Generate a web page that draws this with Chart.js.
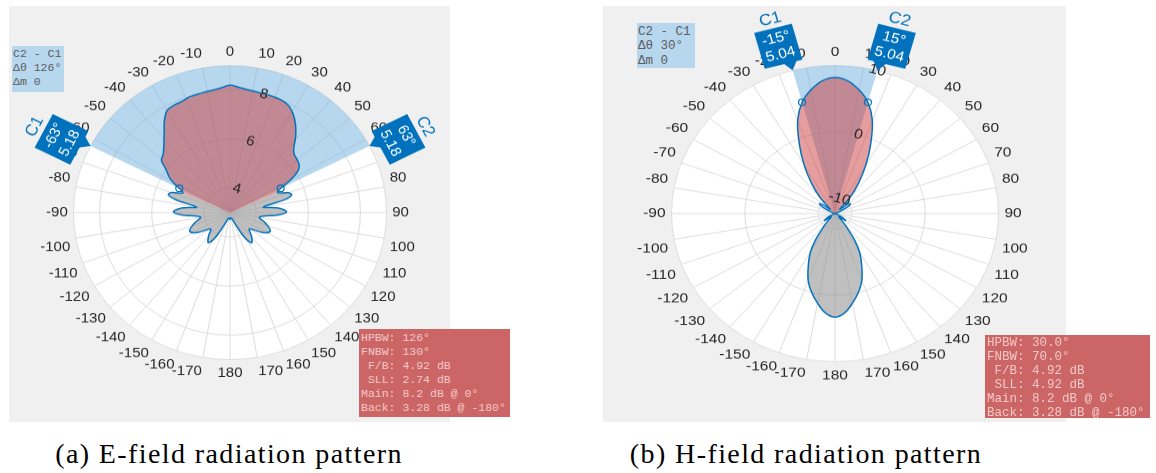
<!DOCTYPE html>
<html>
<head>
<meta charset="utf-8">
<script src="https://cdn.jsdelivr.net/npm/chart.js@4"></script>
<style>
  html, body { margin: 0; padding: 0; background: #ffffff; }
  body { width: 1156px; height: 473px; position: relative; overflow: hidden; }
  .panel { position: absolute; background: #f0f0f0; overflow: hidden; }
  .panel canvas { display: block; transform-origin: 0 0; }
  .readout { position: absolute; white-space: pre; font-family: "Liberation Mono", "DejaVu Sans Mono", monospace; box-sizing: border-box; }
  .delta { background: #b7d7ef; color: #5c5c5c; }
  .metrics { background: #cc6565; color: #f3c8c8; }
  .caption { position: absolute; top: 438px; transform: translateX(-50%); font-family: "Liberation Serif", serif; font-size: 28px; letter-spacing: 1.4px; color: #000; white-space: nowrap; }
</style>
</head>
<body>
<div class="panel" style="left:9px;top:6px;width:441px;height:416px"><canvas id="chartE"></canvas></div>
<div class="panel" style="left:603px;top:6px;width:463px;height:416px"><canvas id="chartH"></canvas></div>

<div class="readout delta" id="deltaE" style="left:12px;top:46px;width:52px;height:46px;padding:1px 0 0 1px;font-size:11.5px;line-height:14.2px"></div>
<div class="readout delta" id="deltaH" style="left:637px;top:23px;width:58px;height:45px;padding:2px 0 0 1px;font-size:12.5px;line-height:14.3px"></div>
<div class="readout metrics" id="metricsE" style="left:359px;top:329px;width:151px;height:88px;padding:2px 0 0 2px;font-size:11.5px;line-height:14px"></div>
<div class="readout metrics" id="metricsH" style="left:985px;top:335px;width:165px;height:83px;padding:1px 0 0 2px;font-size:12.5px;line-height:14px"></div>

<div class="caption" style="left:229px">(a) E-field radiation pattern</div>
<div class="caption" style="left:806px">(b) H-field radiation pattern</div>

<script>
// ---------- data ----------
// azimuth tick labels (degrees, clockwise from boresight)
const ANGLE_LABELS = [0, 10, 20, 30, 40, 50, 60, 70, 80, 90, 100, 110, 120, 130, 140, 150, 160, 170, 180,
  -170, -160, -150, -140, -130, -120, -110, -100, -90, -80, -70, -60, -50, -40, -30, -20, -10];

// E-plane cut: sampled angle (deg) and gain (dB)
const E_ANGLES = [-170, -160, -152, -146, -139, -132, -123, -116, -108, -99, -93, -89, -84, -80, -76, -73, -70, -66,
  -63, -61, -58, -54, -51, -47, -43, -38, -34, -30, -26, -22, -18, -13, -8, -4,
  0, 4, 8, 13, 18, 23, 27, 31, 35, 39, 43, 46, 50, 54, 57, 60,
  63, 66, 70, 73, 76, 80, 84, 89, 93, 99, 108, 116, 123, 132, 139, 146, 152, 160, 170, 180];
const E_GAIN = [3.22, 3.35, 4.05, 4.48, 4.25, 4.00, 4.50, 4.72, 4.45, 4.15, 4.85, 5.17, 4.85, 4.30, 5.10, 5.47, 5.40, 4.98,
  5.18, 5.45, 5.75, 6.05, 6.38, 6.50, 6.72, 7.10, 7.50, 7.82, 7.88, 7.90, 7.97, 8.00, 8.04, 8.10,
  8.20, 8.12, 8.06, 8.03, 8.02, 8.00, 7.92, 7.70, 7.38, 7.00, 6.58, 6.42, 6.36, 6.28, 6.10, 5.70,
  5.18, 5.00, 5.38, 5.47, 5.15, 4.30, 4.85, 5.17, 4.85, 4.15, 4.45, 4.72, 4.50, 4.00, 4.25, 4.48, 4.05, 3.35, 3.22, 3.28];
const E_RANGE = [3, 9];
const E_TICKS = [4, 6, 8];
const E_CURSOR_NAMES = ['C1', 'C2'];
const E_CURSOR_ANGLES = [-63, 63];
const E_CURSOR_VALUES = [5.18, 5.18];
const E_LOBE_EDGES = [-180, -65, 65, 180];          // back | main | back
const E_DELTA = ['C2 - C1', 'Δθ 126°', 'Δm 0'];
const E_METRICS = ['HPBW: 126°', 'FNBW: 130°', ' F/B: 4.92 dB', ' SLL: 2.74 dB', 'Main: 8.2 dB @ 0°', 'Back: 3.28 dB @ -180°'];

// H-plane cut
const H_ANGLES = [-175, -170, -165, -160, -155, -150, -146, -142, -138, -133, -126, -118, -110, -90, -75, -66,
  -60, -55, -50, -45, -40, -35, -30, -25, -20, -15, -10, -5,
  0, 5, 10, 15, 20, 25, 30, 35, 40, 45, 50, 55, 60,
  66, 75, 90, 110, 118, 126, 133, 138, 142, 146, 150, 155, 160, 165, 170, 175, 180];
const H_GAIN = [2.70, 1.40, 0.00, -1.60, -3.70, -5.60, -7.60, -9.80, -10.9, -11.6, -10.5, -11.4, -12.2, -12.2, -12.2, -11.9,
  -10.3, -9.7, -10.3, -11.4, -9.10, -6.70, -3.90, -0.80, 2.60, 5.04, 6.60, 7.75,
  8.20, 7.75, 6.60, 5.04, 2.60, -0.80, -3.90, -6.70, -9.10, -11.4, -10.3, -9.7, -10.3,
  -11.9, -12.2, -12.2, -12.2, -11.4, -10.5, -11.6, -10.9, -9.80, -7.60, -5.60, -3.70, -1.60, 0.00, 1.40, 2.70, 3.28];
const H_RANGE = [-12.3, 10];
const H_TICKS = [-10, 0, 10];
const H_CURSOR_NAMES = ['C1', 'C2'];
const H_CURSOR_ANGLES = [-15, 15];
const H_CURSOR_VALUES = [5.04, 5.04];
const H_LOBE_EDGES = [-180, -138, -45, 45, 138, 180]; // back | side | main | side | back
const H_DELTA = ['C2 - C1', 'Δθ 30°', 'Δm 0'];
const H_METRICS = ['HPBW: 30.0°', 'FNBW: 70.0°', ' F/B: 4.92 dB', ' SLL: 4.92 dB', 'Main: 8.2 dB @ 0°', 'Back: 3.28 dB @ -180°'];

// ---------- styling ----------
const BLUE = '#0072BD';
const MAIN_FILL = 'rgba(205, 60, 60, 0.5)';
const BACK_FILL = 'rgba(150, 150, 150, 0.6)';
const SIDE_FILL = 'rgba(120, 175, 215, 0.3)';
const SPAN_FILL = 'rgba(110, 175, 222, 0.5)';
const GRID = '#dddddd';
const TEXT = '#262626';

Chart.defaults.font.family = '"Liberation Sans", Arial, sans-serif';

// one category per degree; the scale is turned so the magnitude labels sit on the 15° spoke
const START = 15;
const N = 360;
const slot = a => (((Math.round(a) - START) % N) + N) % N;
const angleAt = i => { const a = (i + START) % 360; return a > 180 ? a - 360 : a; };
const CATEGORIES = Array.from({ length: N }, (_, i) => angleAt(i));

function onCircle(angles, values) {
  const out = new Array(N).fill(null);
  angles.forEach((a, k) => { out[slot(a)] = values[k]; });
  return out;
}

function lobeFill(edges, colors) {
  return (c) => {
    const s = c.chart.scales.r;
    if (!s || !isFinite(s.xCenter)) return colors[0];
    // conic sweep starts at the 180° spoke and runs clockwise
    const g = c.chart.ctx.createConicGradient(Math.PI / 2, s.xCenter, s.yCenter);
    for (let k = 0; k < colors.length; k++) {
      g.addColorStop((edges[k] + 180) / 360, colors[k]);
      g.addColorStop((edges[k + 1] + 180) / 360, colors[k]);
    }
    return g;
  };
}

const cursorTags = {
  id: 'cursorTags',
  afterDraw(chart, args, o) {
    const s = chart.scales.r;
    const ctx = chart.ctx;
    o.names.forEach((name, k) => {
      const a = o.angles[k];
      const p = s.getPointPositionForValue(slot(a), s.max);
      const side = a < 0 ? -1 : 1;
      const w = o.w, h = o.h, lift = 9, shift = 7 * side;
      const x0 = shift - w / 2, y0 = -lift - h;
      ctx.save();
      ctx.translate(p.x, p.y);
      ctx.rotate(a * Math.PI / 180);
      ctx.fillStyle = BLUE;
      ctx.fillRect(x0, y0, w, h);
      ctx.beginPath();
      ctx.moveTo(0, 0);
      ctx.lineTo(-7, -lift - 1);
      ctx.lineTo(7, -lift - 1);
      ctx.closePath();
      ctx.fill();
      ctx.fillStyle = '#ffffff';
      ctx.font = o.size + 'px "Liberation Sans", Arial, sans-serif';
      ctx.textAlign = 'center';
      ctx.textBaseline = 'middle';
      ctx.fillText(a + '°', shift, y0 + h * 0.29);
      ctx.fillText(o.values[k].toFixed(2), shift, y0 + h * 0.73);
      ctx.fillStyle = BLUE;
      ctx.font = (o.size + 2) + 'px "Liberation Sans", Arial, sans-serif';
      ctx.fillText(name, shift, y0 - 10);
      ctx.restore();
    });
  }
};

function polar(id, spec) {
  const canvas = document.getElementById(id);
  canvas.width = spec.w; canvas.height = spec.h;
  canvas.style.width = spec.w + 'px'; canvas.style.height = spec.h + 'px';
  canvas.style.transform = 'scaleY(' + (spec.panelH / spec.h) + ')';

  const [min, max] = spec.range;
  const ringValues = Array.from(new Set([min, ...spec.ticks, max])).sort((a, b) => a - b);
  const span = CATEGORIES.map(a => (a >= spec.cursorAngles[0] && a <= spec.cursorAngles[1]) ? max : min);
  const pad = { left: 0, right: 0, top: 0, bottom: 0 };

  const chart = new Chart(canvas, {
    type: 'radar',
    data: {
      labels: CATEGORIES,
      datasets: [
        {
          data: onCircle(spec.cursorAngles, spec.cursorValues),
          showLine: false, fill: false,
          pointRadius: 3.5, pointBorderWidth: 1.2,
          pointBorderColor: BLUE, pointBackgroundColor: 'rgba(255,255,255,0)'
        },
        {
          data: onCircle(spec.angles, spec.gains),
          spanGaps: true, tension: 0.35,
          borderColor: BLUE, borderWidth: 1.5,
          fill: 'start', backgroundColor: lobeFill(spec.edges, spec.colors),
          pointRadius: 0
        },
        {
          data: span,
          tension: 0, borderWidth: 0, borderColor: 'rgba(0,0,0,0)',
          fill: 'start', backgroundColor: SPAN_FILL,
          pointRadius: 0
        }
      ]
    },
    options: {
      responsive: false,
      maintainAspectRatio: false,
      animation: false,
      devicePixelRatio: 1,
      events: [],
      layout: { padding: pad },
      plugins: { legend: { display: false }, tooltip: { enabled: false }, cursorTags: {
        names: spec.cursorNames, angles: spec.cursorAngles, values: spec.cursorValues,
        w: spec.tagW, h: spec.tagH, size: spec.font } },
      scales: {
        r: {
          min, max,
          startAngle: START,
          backgroundColor: '#ffffff',
          grid: { circular: true, color: GRID, lineWidth: 1 },
          angleLines: {
            display: true, color: GRID,
            lineWidth: c => ANGLE_LABELS.includes(angleAt(c.index)) ? 1 : 0
          },
          pointLabels: {
            display: true, padding: -1.8, color: TEXT,
            font: { size: spec.font },
            callback: v => ANGLE_LABELS.includes(v) ? String(v) : ''
          },
          ticks: {
            display: true, z: 1, color: TEXT, showLabelBackdrop: false, backdropPadding: 0,
            font: { size: spec.font },
            callback: v => spec.ticks.includes(v) ? String(v) : ''
          },
          afterBuildTicks: s => { s.ticks = ringValues.map(v => ({ value: v })); }
        }
      }
    },
    plugins: [cursorTags]
  });

  // size the polar area to the requested radius and centre
  for (let k = 0; k < 5; k++) {
    const s = chart.scales.r;
    const d = s.drawingArea - spec.r;
    const dx = s.xCenter - spec.cx, dy = s.yCenter - spec.cy;
    if (Math.abs(d) < 0.5 && Math.abs(dx) < 0.6 && Math.abs(dy) < 0.6) break;
    pad.left += d - dx; pad.right += d + dx;
    pad.top += d - dy; pad.bottom += d + dy;
    chart.update('none');
  }
  return chart;
}

polar('chartE', {
  w: 441, h: 443, panelH: 416, cx: 221, cy: 220, r: 157, font: 15, tagW: 40, tagH: 40,
  angles: E_ANGLES, gains: E_GAIN, range: E_RANGE, ticks: E_TICKS,
  cursorNames: E_CURSOR_NAMES, cursorAngles: E_CURSOR_ANGLES, cursorValues: E_CURSOR_VALUES,
  edges: E_LOBE_EDGES, colors: [BACK_FILL, MAIN_FILL, BACK_FILL]
});
polar('chartH', {
  w: 463, h: 459, panelH: 416, cx: 232, cy: 228.5, r: 163.5, font: 15.5, tagW: 39, tagH: 41,
  angles: H_ANGLES, gains: H_GAIN, range: H_RANGE, ticks: H_TICKS,
  cursorNames: H_CURSOR_NAMES, cursorAngles: H_CURSOR_ANGLES, cursorValues: H_CURSOR_VALUES,
  edges: H_LOBE_EDGES, colors: [BACK_FILL, SIDE_FILL, MAIN_FILL, SIDE_FILL, BACK_FILL]
});

document.getElementById('deltaE').textContent = E_DELTA.join('\n');
document.getElementById('deltaH').textContent = H_DELTA.join('\n');
document.getElementById('metricsE').textContent = E_METRICS.join('\n');
document.getElementById('metricsH').textContent = H_METRICS.join('\n');
</script>
</body>
</html>
